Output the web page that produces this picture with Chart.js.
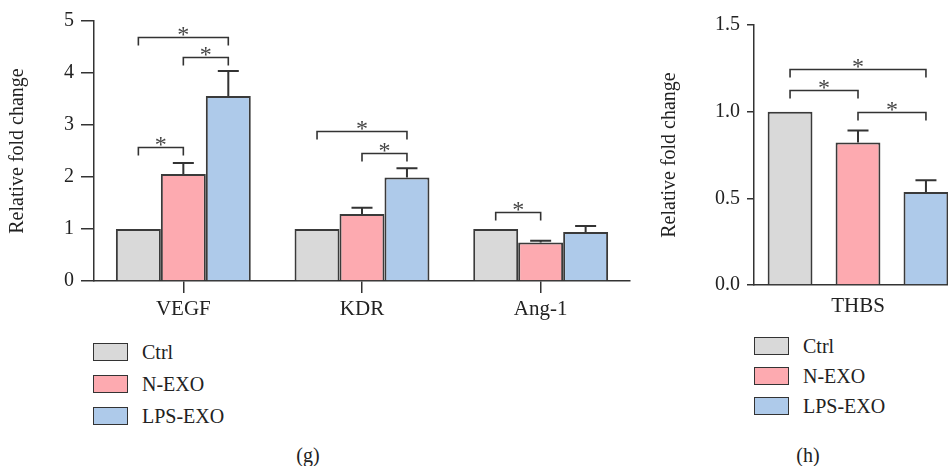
<!DOCTYPE html>
<html>
<head>
<meta charset="utf-8">
<script src="https://cdn.jsdelivr.net/npm/chart.js@4.4.1/dist/chart.umd.min.js"></script>
<style>
    html, body { margin: 0; padding: 0; background: #fff; width: 948px; height: 466px; overflow: hidden; }
    body { position: relative; font-family: 'Liberation Serif', 'DejaVu Serif', serif; color: #222; }
    canvas { position: absolute; top: 0; }
    #chartG { left: 0; }
    #chartH { left: 640px; }
    .legend { position: absolute; }
    .legend .row { position: absolute; left: 0; height: 19px; white-space: nowrap; }
    .legend .box { position: absolute; left: 0; top: 0; width: 33px; height: 16px; border: 1.5px solid #333; }
    .legend .txt { position: absolute; left: 49px; top: -3px; font-size: 20px; line-height: 24px; }
    .caption { position: absolute; font-size: 20px; line-height: 24px; transform: translateX(-50%); }
</style>
</head>
<body>
<canvas id="chartG" width="640" height="330"></canvas>
<canvas id="chartH" width="330" height="330"></canvas>
<div class="legend" id="legendG" style="left:93px; top:343px;"></div>
<div class="legend" id="legendH" style="left:754px; top:337px;"></div>
<div class="caption" style="left:308px; top:443px;">(g)</div>
<div class="caption" style="left:808px; top:443px;">(h)</div>
<script>
// series names and colours
const seriesNames = ['Ctrl', 'N-EXO', 'LPS-EXO'];
const seriesColors = ['#d9d9d9', '#fdaab0', '#aecaea'];

// panel (g)
const genes = ['VEGF', 'KDR', 'Ang-1'];
const ctrlVals = [1.0, 1.0, 1.0];
const ctrlErr = [0, 0, 0];
const nExoVals = [2.06, 1.29, 0.74];
const nExoErr = [0.21, 0.12, 0.035];
const lpsVals = [3.56, 1.99, 0.94];
const lpsErr = [0.48, 0.18, 0.12];
const yTicksG = ['0', '1', '2', '3', '4', '5'];

// panel (h)
const thbsLabels = ['THBS'];
const thbsCtrl = [1.0];
const thbsCtrlErr = [0];
const thbsNExo = [0.822];
const thbsNExoErr = [0.07];
const thbsLps = [0.536];
const thbsLpsErr = [0.069];
const yTicksH = ['0.0', '0.5', '1.0', '1.5'];

// significance brackets: [category, from series, to series, height]
const sigG = [
    [0, 0, 1, 2.57],
    [0, 1, 2, 4.30],
    [0, 0, 2, 4.70],
    [1, 1, 2, 2.46],
    [1, 0, 2, 2.89],
    [2, 0, 1, 1.32]
];
const sigH = [
    [0, 0, 2, 1.249],
    [0, 0, 1, 1.123],
    [0, 1, 2, 0.996]
];

const serif = "'Liberation Serif', 'DejaVu Serif', serif";
const ink = '#333';

// error bars (upper only) + brackets with asterisks
const annotations = {
    id: 'annotations',
    afterDatasetsDraw(chart, args, opts) {
        const ctx = chart.ctx;
        const yScale = chart.scales.y;
        ctx.save();
        ctx.strokeStyle = ink;
        ctx.lineWidth = 2;
        chart.data.datasets.forEach((ds, i) => {
            const meta = chart.getDatasetMeta(i);
            meta.data.forEach((bar, j) => {
                const err = ds.errors[j];
                if (!err) return;
                const yTop = yScale.getPixelForValue(ds.data[j] + err);
                ctx.beginPath();
                ctx.moveTo(bar.x, bar.y);
                ctx.lineTo(bar.x, yTop);
                ctx.moveTo(bar.x - 10.5, yTop);
                ctx.lineTo(bar.x + 10.5, yTop);
                ctx.stroke();
            });
        });
        ctx.lineWidth = 1.6;
        ctx.fillStyle = '#444';
        ctx.font = '24px ' + serif;
        ctx.textAlign = 'center';
        ctx.textBaseline = 'alphabetic';
        opts.brackets.forEach(([cat, a, b, v]) => {
            const x1 = chart.getDatasetMeta(a).data[cat].x;
            const x2 = chart.getDatasetMeta(b).data[cat].x;
            const y = Math.round(yScale.getPixelForValue(v)) + 0.5;
            ctx.beginPath();
            ctx.moveTo(x1, y + 8);
            ctx.lineTo(x1, y);
            ctx.lineTo(x2, y);
            ctx.lineTo(x2, y + 8);
            ctx.stroke();
            ctx.fillText('*', (x1 + x2) / 2, y + 4);
        });
        ctx.restore();
    }
};

function makeDatasets(vals, errs) {
    return seriesNames.map((name, i) => ({
        label: name,
        data: vals[i],
        errors: errs[i],
        backgroundColor: seriesColors[i],
        borderColor: '#3a3a3a',
        borderWidth: 2
    }));
}

function makeChart(canvas, labels, datasets, o) {
    return new Chart(canvas, {
        type: 'bar',
        data: { labels: labels, datasets: datasets },
        plugins: [annotations],
        options: {
            responsive: false,
            animation: false,
            devicePixelRatio: 1,
            categoryPercentage: o.catPct,
            barPercentage: o.barPct,
            layout: { padding: { top: o.top, right: o.right, left: 0, bottom: 0 } },
            plugins: {
                legend: { display: false },
                tooltip: { enabled: false },
                annotations: { brackets: o.brackets }
            },
            scales: {
                x: {
                    offset: true,
                    grid: { offset: false, drawOnChartArea: false, drawTicks: o.xTicks, tickLength: 12, color: ink, lineWidth: 1.5 },
                    border: { color: ink, width: 1.5 },
                    ticks: { color: '#222', font: { family: serif, size: 21 }, padding: o.xPad, maxRotation: 0 },
                    afterFit: s => { s.height = o.xHeight; }
                },
                y: {
                    min: 0,
                    max: o.yMax,
                    grid: { drawOnChartArea: false, tickLength: o.tickLen, color: ink, lineWidth: 1.5 },
                    border: { color: ink, width: 1.5 },
                    ticks: {
                        stepSize: o.step,
                        padding: o.tickPad,
                        color: '#222',
                        font: { family: serif, size: 20 },
                        callback: (v, i) => o.tickLabels[i]
                    },
                    title: {
                        display: true,
                        text: 'Relative fold change',
                        color: '#222',
                        font: { family: serif, size: 20 },
                        padding: { top: o.titlePad, bottom: 0 }
                    },
                    afterFit: s => { s.width = o.yWidth; }
                }
            }
        }
    });
}

makeChart(document.getElementById('chartG'), genes,
    makeDatasets([ctrlVals, nExoVals, lpsVals], [ctrlErr, nExoErr, lpsErr]), {
        catPct: 0.755, barPct: 1, top: 21, right: 10, xHeight: 49, xTicks: true, xPad: 4,
        yMax: 5, step: 1, tickLen: 13, tickPad: 7, tickLabels: yTicksG, titlePad: 6, yWidth: 94,
        brackets: sigG
    });

makeChart(document.getElementById('chartH'), thbsLabels,
    makeDatasets([thbsCtrl, thbsNExo, thbsLps], [thbsCtrlErr, thbsNExoErr, thbsLpsErr]), {
        catPct: 0.98, barPct: 0.66, top: 25, right: 8, xHeight: 45, xTicks: false, xPad: 9,
        yMax: 1.5, step: 0.5, tickLen: 7, tickPad: 7, tickLabels: yTicksH, titlePad: 18, yWidth: 114,
        brackets: sigH
    });

// legends
function buildLegend(el, spacing) {
    seriesNames.forEach((name, i) => {
        const row = document.createElement('div');
        row.className = 'row';
        row.style.top = (i * spacing) + 'px';
        row.innerHTML = '<div class="box" style="background:' + seriesColors[i] + '"></div><div class="txt">' + name + '</div>';
        el.appendChild(row);
    });
}
buildLegend(document.getElementById('legendG'), 32);
buildLegend(document.getElementById('legendH'), 30);
</script>
</body>
</html>
